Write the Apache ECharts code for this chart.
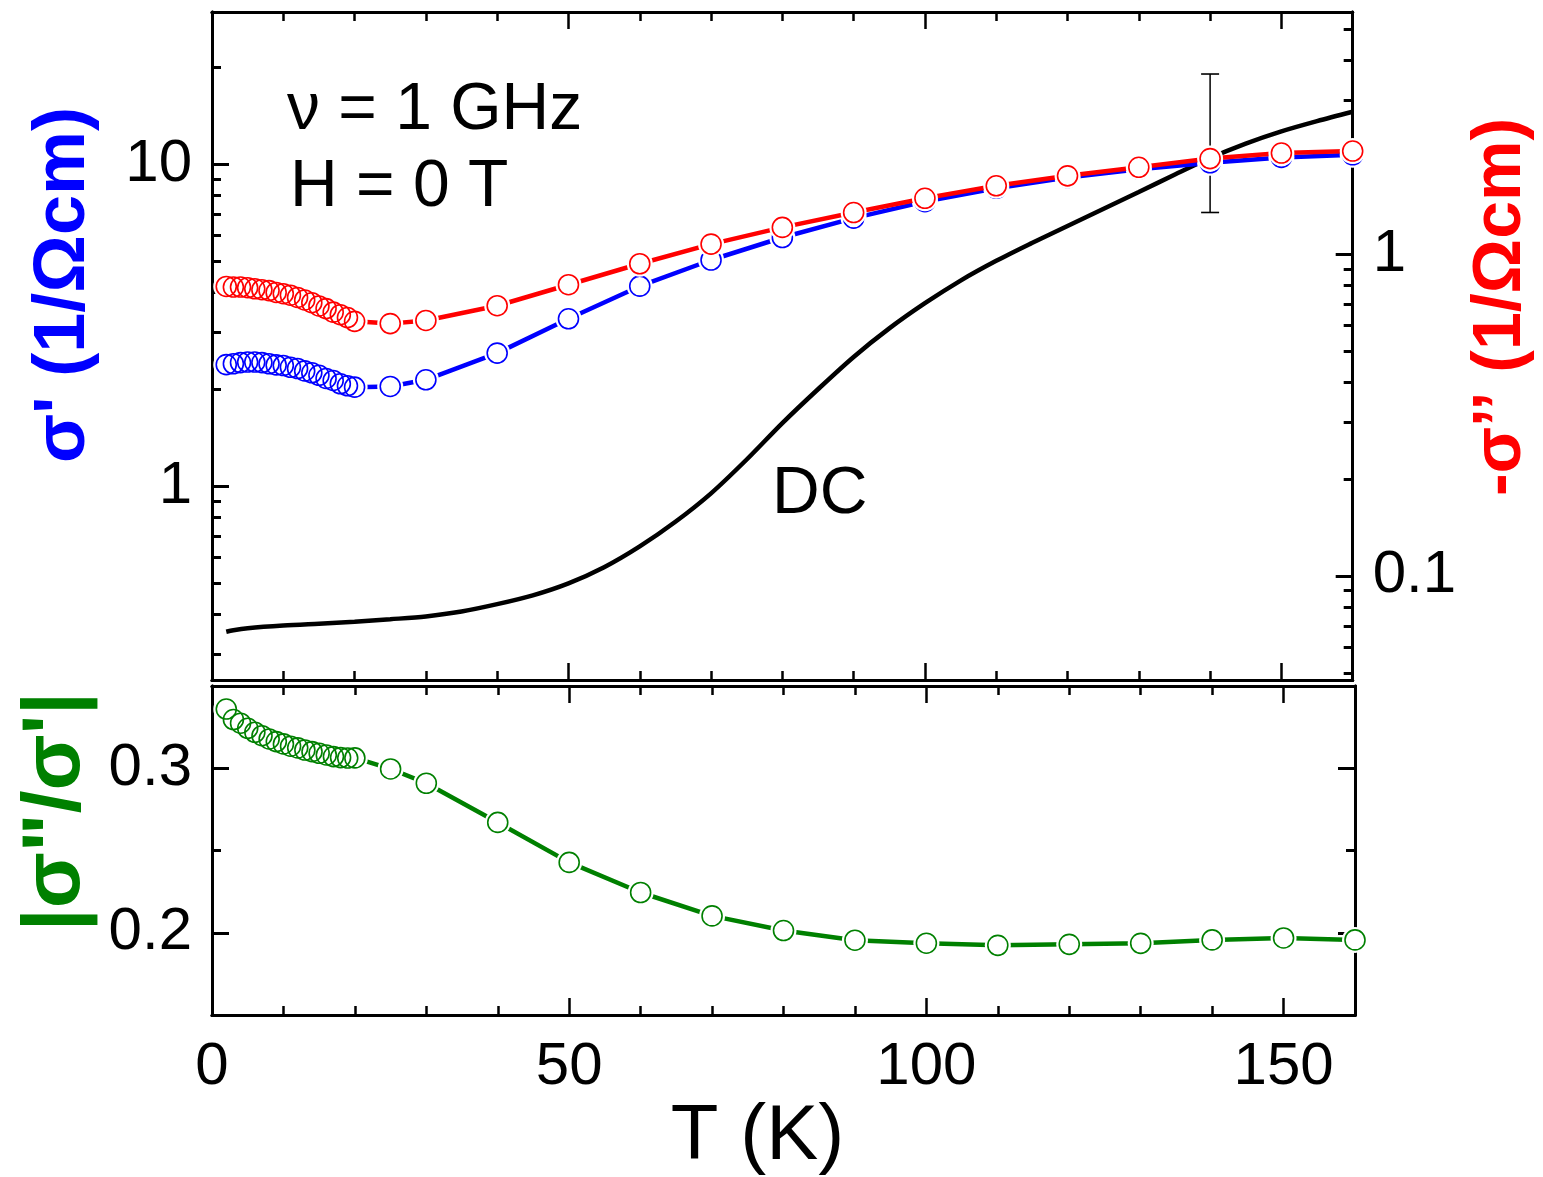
<!DOCTYPE html>
<html>
<head>
<meta charset="utf-8">
<script src="https://cdn.jsdelivr.net/npm/echarts@6/dist/echarts.min.js"></script>
<style>
html, body { margin: 0; padding: 0; background: #fff; }
#chart { width: 1543px; height: 1177px; }
</style>
</head>
<body>
<div id="chart"></div>
<script>
// temperatures of the 1 GHz measurement (K)
var temps = [2, 3, 4, 5, 6, 7, 8, 9, 10, 11, 12, 13, 14, 15, 16, 17, 18, 19, 20,
	25, 30, 40, 50, 60, 70, 80, 90, 100, 110, 120, 130, 140, 150, 160];
// sigma' (1/Ohm cm), left axis
var sigmaReal = [2.385, 2.40, 2.42, 2.43, 2.43, 2.42, 2.40, 2.38, 2.37, 2.34, 2.32, 2.28, 2.25, 2.21, 2.16, 2.13, 2.08, 2.05, 2.03,
	2.04, 2.14, 2.59, 3.31, 4.18, 5.04, 5.92, 6.80, 7.65, 8.42, 9.09, 9.65, 10.1, 10.5, 10.7];
// -sigma'' (1/Ohm cm), right axis
var sigmaImag = [0.793, 0.79, 0.79, 0.786, 0.78, 0.775, 0.77, 0.76, 0.753, 0.745, 0.733, 0.72, 0.706, 0.69, 0.677, 0.66, 0.648, 0.635, 0.618,
	0.608, 0.622, 0.691, 0.803, 0.933, 1.074, 1.21, 1.346, 1.49, 1.63, 1.75, 1.86, 1.98, 2.06, 2.09];
// |sigma''/sigma'|
var ratio = [0.336, 0.3296, 0.3274, 0.3243, 0.3219, 0.3198, 0.3178, 0.3162, 0.3148, 0.3134, 0.3124, 0.3111, 0.3101, 0.3091, 0.3081, 0.3071, 0.3065, 0.3062, 0.3063,
	0.2996, 0.2909, 0.2671, 0.2428, 0.2245, 0.2103, 0.2014, 0.1955, 0.1937, 0.1924, 0.193, 0.1936, 0.1957, 0.1969, 0.1957];

// DC conductivity curve
var dcTemps = [2, 3, 5, 10, 15, 20, 25, 30, 35, 40, 45, 50, 55, 60, 65, 70, 75, 80, 85, 90,
	95, 100, 105, 110, 115, 120, 125, 130, 135, 140, 145, 150, 155, 160];
var dcValues = [0.353, 0.357, 0.362, 0.369, 0.374, 0.379, 0.386, 0.394, 0.408, 0.43, 0.458, 0.499, 0.56, 0.65, 0.775, 0.95, 1.21, 1.57, 2.00, 2.52,
	3.09, 3.70, 4.35, 5.01, 5.69, 6.43, 7.26, 8.20, 9.27, 10.45, 11.59, 12.65, 13.61, 14.55];

// error bar at 140 K
var errTemp = 140;
var errLow = 7.08;
var errHigh = 19.06;

// ticks
var xMajor = [0, 50, 100, 150];
var xMinor = [10, 20, 30, 40, 60, 70, 80, 90, 110, 120, 130, 140];
var leftMajor = [1, 10];
var leftMinor = [0.3, 0.4, 0.5, 0.6, 0.7, 0.8, 0.9, 2, 3, 4, 5, 6, 7, 8, 9, 20];
var rightMajor = [0.1, 1];
var rightMinor = [0.05, 0.06, 0.07, 0.08, 0.09, 0.2, 0.3, 0.4, 0.5, 0.6, 0.7, 0.8, 0.9, 2, 3, 4, 5];
var ratioMajor = [0.2, 0.3];
var ratioMinor = [0.25];

var FONT = '"Liberation Sans", Arial, Helvetica, sans-serif';

function pairs(xs, ys) {
	return xs.map(function (x, i) { return [x, ys[i]]; });
}

function xAx(grid, pos, ticks, len, labels, extra) {
	return Object.assign({
		type: 'value', gridIndex: grid, position: pos, min: 0, max: 160,
		axisLine: { show: true, onZero: false, lineStyle: { color: '#000', width: 3 } },
		axisTick: { show: true, inside: true, length: len, customValues: ticks, lineStyle: { color: '#000', width: 2.5 } },
		axisLabel: { show: labels, customValues: xMajor, fontSize: 60, color: '#000', fontFamily: FONT, margin: 22 },
		splitLine: { show: false }
	}, extra || {});
}

function yAx(grid, pos, type, min, max, ticks, len, labelVals, extra) {
	return Object.assign({
		type: type, gridIndex: grid, position: pos, min: min, max: max,
		axisLine: { show: true, onZero: false, lineStyle: { color: '#000', width: 3 } },
		axisTick: { show: true, inside: true, length: len, customValues: ticks, lineStyle: { color: '#000', width: 3 } },
		axisLabel: { show: !!labelVals, customValues: labelVals || [], fontSize: 60, color: '#000', fontFamily: FONT, margin: 20 },
		splitLine: { show: false },
		minorTick: { show: false }
	}, extra || {});
}

// line under white discs under open rings, so the line breaks at each symbol
function ringSeries(name, xi, yi, data, color, z) {
	return [{
		name: name + ' line', type: 'line', xAxisIndex: xi, yAxisIndex: yi, data: data, z: z,
		showSymbol: false, lineStyle: { color: color, width: 4.5 }, silent: true
	}, {
		name: name + ' fill', type: 'scatter', xAxisIndex: xi, yAxisIndex: yi, data: data, z: z + 1,
		symbol: 'circle', symbolSize: 26, itemStyle: { color: '#fff', opacity: 1 }, silent: true
	}, {
		name: name, type: 'scatter', xAxisIndex: xi, yAxisIndex: yi, data: data, z: z + 2,
		symbol: 'circle', symbolSize: 20,
		itemStyle: { color: 'rgba(255,255,255,0)', borderColor: color, borderWidth: 1.6, opacity: 1 }
	}];
}

var chart = echarts.init(document.getElementById('chart'), null, { renderer: 'canvas' });

var series = [];
series.push({
	name: 'DC', type: 'line', xAxisIndex: 0, yAxisIndex: 0, data: pairs(dcTemps, dcValues), z: 2,
	smooth: 0.3, showSymbol: false, lineStyle: { color: '#000', width: 4.5 }
});
series.push({
	name: 'error', type: 'line', xAxisIndex: 0, yAxisIndex: 0, z: 2,
	data: [[errTemp, errHigh], [errTemp, errLow]],
	symbol: 'rect', symbolSize: [18, 1.6], showSymbol: true,
	itemStyle: { color: '#000' }, lineStyle: { color: '#000', width: 1.5 }
});
series = series.concat(ringSeries("σ'", 0, 0, pairs(temps, sigmaReal), '#0000ff', 3));
series = series.concat(ringSeries("-σ''", 0, 2, pairs(temps, sigmaImag), '#ff0000', 6));
series = series.concat(ringSeries('ratio', 4, 4, pairs(temps, ratio), '#008000', 3));

chart.setOption({
	animation: false,
	backgroundColor: '#fff',
	grid: [
		{ left: 212, right: 188, top: 12, height: 668 },
		{ left: 212, right: 188, top: 686, height: 331 }
	],
	xAxis: [
		xAx(0, 'bottom', xMajor, 17, false),
		xAx(0, 'bottom', xMinor, 9, false),
		xAx(0, 'top', xMajor, 17, false),
		xAx(0, 'top', xMinor, 9, false),
		xAx(1, 'bottom', xMajor, 17, true, {
			name: 'T (K)', nameLocation: 'middle', nameGap: 74,
			nameTextStyle: { fontSize: 78, color: '#000', fontFamily: FONT, padding: [0, 52, 0, 0] }
		}),
		xAx(1, 'bottom', xMinor, 9, false),
		xAx(1, 'top', xMajor, 17, false),
		xAx(1, 'top', xMinor, 9, false)
	],
	yAxis: [
		yAx(0, 'left', 'log', 0.25, 29.7, leftMajor, 17, leftMajor, {
			name: "σ' (1/Ωcm)", nameLocation: 'middle', nameRotate: 90, nameGap: 112,
			nameTextStyle: { fontSize: 72, fontWeight: 'bold', color: '#0000ff', fontFamily: FONT, padding: [0, 0, 0, 122] }
		}),
		yAx(0, 'left', 'log', 0.25, 29.7, leftMinor, 9, null),
		yAx(0, 'right', 'log', 0.0475, 5.65, rightMajor, 17, rightMajor, {
			name: "-σ’’ (1/Ωcm)", nameLocation: 'middle', nameRotate: 90, nameGap: 108,
			nameTextStyle: { fontSize: 68, fontWeight: 'bold', color: '#ff0000', fontFamily: FONT, padding: [0, 0, 0, 78] }
		}),
		yAx(0, 'right', 'log', 0.0475, 5.65, rightMinor, 9, null),
		yAx(1, 'left', 'value', 0.15, 0.35, ratioMajor, 17, ratioMajor, {
			name: '|σ"/σ\'|', nameLocation: 'middle', nameRotate: 90, nameGap: 112,
			nameTextStyle: { fontSize: 82, fontWeight: 'bold', color: '#008000', fontFamily: FONT, padding: [0, 0, 0, 78] }
		}),
		yAx(1, 'left', 'value', 0.15, 0.35, ratioMinor, 9, null),
		yAx(1, 'right', 'value', 0.15, 0.35, ratioMajor, 17, null),
		yAx(1, 'right', 'value', 0.15, 0.35, ratioMinor, 9, null)
	],
	graphic: [
		{ type: 'text', left: 287, top: 78, style: { text: 'ν = 1 GHz', font: '66px ' + FONT, fill: '#000' } },
		{ type: 'text', left: 290, top: 155, style: { text: 'H = 0 T', font: '66px ' + FONT, fill: '#000' } },
		{ type: 'text', left: 772, top: 462, style: { text: 'DC', font: '66px ' + FONT, fill: '#000' } }
	],
	series: series
});
</script>
</body>
</html>
